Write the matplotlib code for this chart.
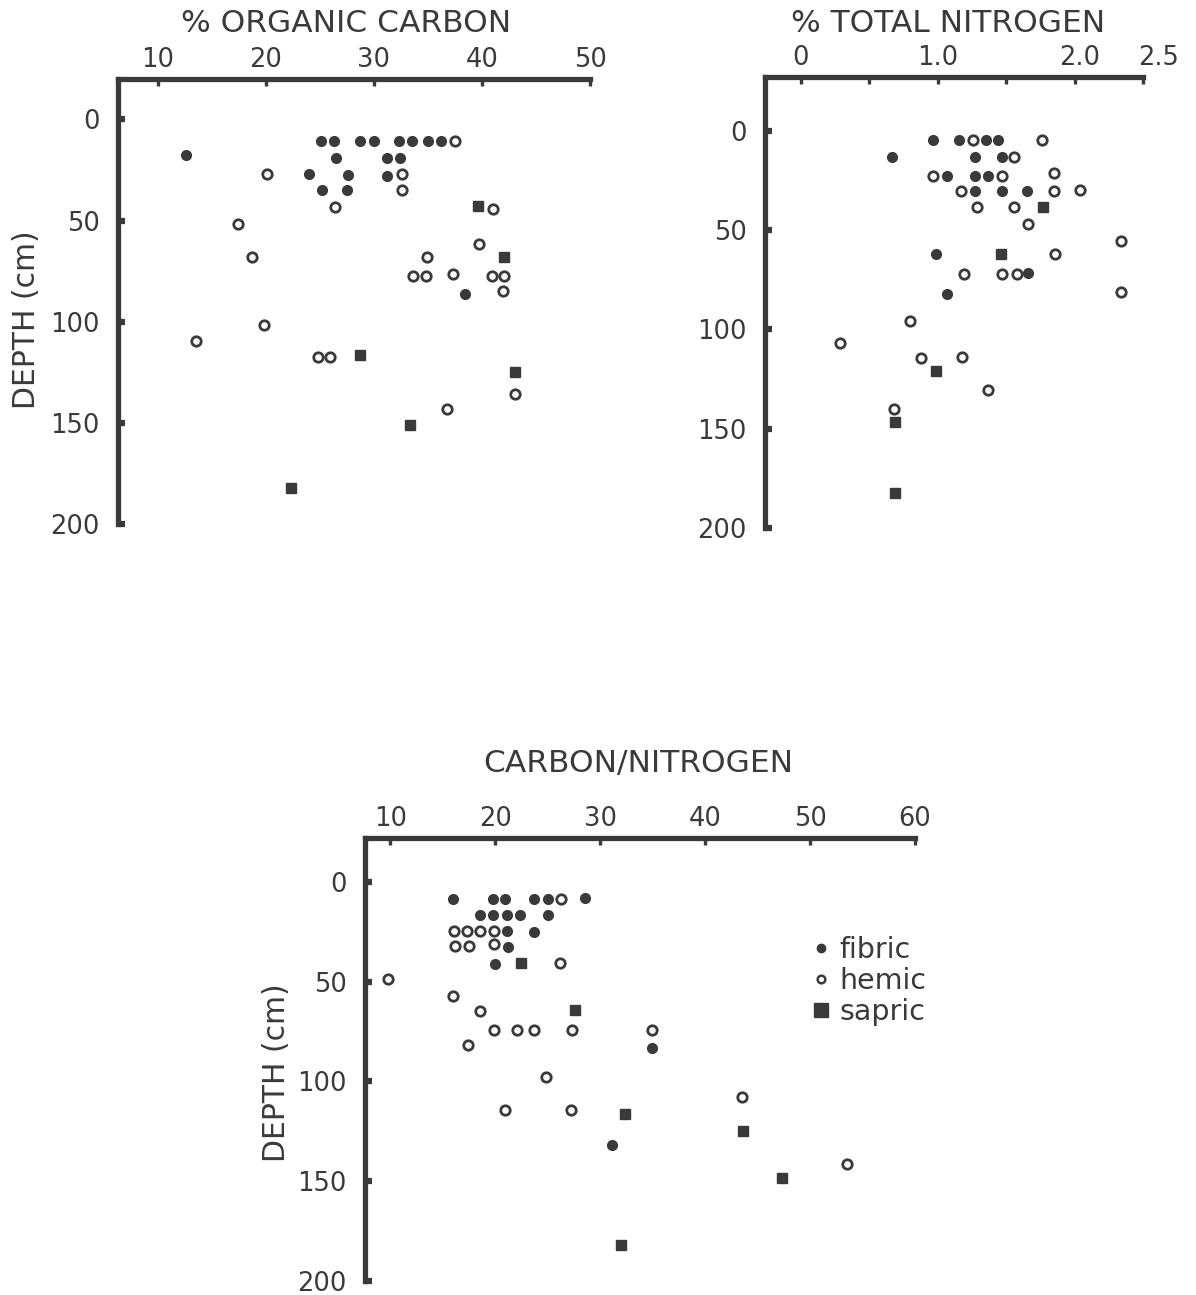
import matplotlib
matplotlib.use("Agg")
import matplotlib.pyplot as plt
import matplotlib.transforms as mtransforms
from matplotlib.lines import Line2D

# % organic carbon vs depth
oc_fibric_x = [25.1, 26.3, 28.7, 30.0, 32.3, 33.5, 35.0, 36.2, 12.6, 26.5, 31.2, 32.4,
               24.0, 27.6, 31.2, 25.2, 27.5, 38.4]
oc_fibric_d = [10.7, 10.7, 10.7, 10.7, 10.7, 10.7, 10.7, 10.7, 17.8, 19.2, 19.2, 19.2,
               27.2, 27.6, 28.0, 35.0, 35.0, 86.3]
oc_hemic_x = [37.5, 20.1, 32.6, 32.6, 26.4, 41.0, 17.4, 39.7, 18.7, 34.9, 33.6, 34.8,
              37.3, 40.9, 42.05, 41.9, 19.8, 13.5, 24.8, 25.9, 43.1, 36.8]
oc_hemic_d = [10.7, 27.0, 27.0, 35.0, 43.5, 44.4, 51.8, 61.6, 68.2, 68.2, 77.2, 77.2,
              76.3, 77.2, 77.2, 85.0, 101.6, 109.3, 117.5, 117.5, 135.6, 143.0]
oc_sapric_x = [39.6, 42.0, 28.7, 43.1, 33.3, 22.3]
oc_sapric_d = [43.0, 68.2, 116.5, 124.9, 151.2, 182.4]

# % total nitrogen vs depth
tn_fibric_x = [0.97, 1.16, 1.35, 1.44, 0.67, 1.27, 1.47, 1.07, 1.27, 1.37,
               1.27, 1.47, 1.65, 0.99, 1.66, 1.07]
tn_fibric_d = [4.5, 4.5, 4.5, 4.5, 13.4, 13.4, 13.4, 22.6, 22.6, 22.6,
               30.6, 30.6, 30.6, 61.9, 71.6, 82.0]
tn_hemic_x = [1.26, 1.76, 1.56, 0.97, 1.47, 1.85, 1.17, 1.85, 2.04, 1.29, 1.56, 1.66,
              2.34, 1.86, 1.19, 1.47, 1.58, 2.34, 0.80, 0.29, 0.88, 1.18, 1.37, 0.68]
tn_hemic_d = [4.5, 4.5, 13.4, 22.6, 22.6, 21.4, 30.6, 30.6, 29.8, 38.5, 38.5, 46.8,
              55.7, 61.9, 72.4, 72.4, 72.4, 81.0, 95.8, 107.0, 114.5, 114.0, 130.4, 140.0]
tn_sapric_x = [1.77, 1.46, 0.99, 0.69, 0.69]
tn_sapric_d = [38.5, 61.9, 121.0, 146.8, 182.6]

# carbon/nitrogen ratio vs depth
cn_fibric_x = [16.0, 19.8, 20.9, 23.7, 25.0, 28.6, 18.6, 19.8, 21.1, 22.4, 25.0,
               21.1, 23.7, 21.2, 20.0, 34.9, 31.1]
cn_fibric_d = [8.6, 8.6, 8.6, 8.6, 8.6, 8.1, 16.6, 16.6, 16.6, 16.6, 16.6,
               24.4, 25.0, 32.8, 41.0, 83.2, 132.0]
cn_hemic_x = [26.3, 16.1, 17.3, 18.6, 19.9, 16.2, 17.5, 19.9, 26.2, 9.8, 16.0, 18.6,
              19.9, 22.1, 23.7, 27.3, 34.9, 17.4, 24.8, 43.5, 20.9, 27.2, 53.5]
cn_hemic_d = [8.6, 24.4, 24.4, 24.4, 24.4, 32.1, 32.1, 31.3, 40.6, 48.7, 57.0, 64.6,
              74.0, 74.0, 74.0, 74.0, 74.0, 81.9, 98.0, 108.0, 114.3, 114.3, 141.5]
cn_sapric_x = [22.5, 27.6, 32.4, 43.6, 47.3, 32.0]
cn_sapric_d = [40.5, 64.1, 116.3, 125.0, 148.6, 182.0]

depth_ticks = [0, 50, 100, 150, 200]
oc_ticks = [10, 20, 30, 40, 50]
tn_ticks = [0, 0.5, 1.0, 1.5, 2.0, 2.5]
tn_tick_labels = ["0", "", "1.0", "", "2.0", "2.5"]
cn_ticks = [10, 20, 30, 40, 50, 60]

INK = "#3a3a3a"
plt.rcParams["font.family"] = ["DejaVu Sans"]
plt.rcParams["text.color"] = INK


def draw_points(ax, fx, fd, hx, hd, sx, sd):
    ax.plot(fx, fd, "o", ms=7, color=INK, mec=INK, linestyle="none", clip_on=False)
    ax.plot(hx, hd, "o", ms=6.8, mfc="white", mec=INK, mew=2.0, linestyle="none", clip_on=False)
    ax.plot(sx, sd, "s", ms=7, color=INK, mec=INK, linestyle="none", clip_on=False)


def style_axes(ax, xlim, ylim, xticks, xlabels=None):
    ax.set_xlim(*xlim)
    ax.set_ylim(*ylim)
    for side in ("bottom", "right"):
        ax.spines[side].set_visible(False)
    for side in ("top", "left"):
        ax.spines[side].set_linewidth(3.8)
        ax.spines[side].set_color(INK)
    ax.xaxis.tick_top()
    ax.set_xticks(xticks)
    if xlabels is not None:
        ax.set_xticklabels(xlabels)
    ax.set_yticks(depth_ticks)
    ax.tick_params(axis="x", direction="in", length=5, width=2.4, color=INK,
                   labelsize=18.5, labelcolor=INK, pad=4)
    ax.tick_params(axis="y", direction="in", length=5, width=4.5, color=INK,
                   labelsize=18.5, labelcolor=INK, pad=13)


fig = plt.figure(figsize=(11.96, 12.95), dpi=100)
W, H = 1196, 1295


def add_axes(left, top, right, bottom):
    return fig.add_axes([left / W, 1 - bottom / H, (right - left) / W, (bottom - top) / H])


ax1 = add_axes(118, 79, 590, 524)
draw_points(ax1, oc_fibric_x, oc_fibric_d, oc_hemic_x, oc_hemic_d, oc_sapric_x, oc_sapric_d)
style_axes(ax1, (6.3, 50), (200, -20), oc_ticks)
ax1.set_ylabel("DEPTH (cm)", fontsize=21.5, color=INK)
ax1.yaxis.set_label_coords(-0.164, 0.46)

ax2 = add_axes(765, 77, 1143, 528)
draw_points(ax2, tn_fibric_x, tn_fibric_d, tn_hemic_x, tn_hemic_d, tn_sapric_x, tn_sapric_d)
style_axes(ax2, (-0.26, 2.5), (200, -27), tn_ticks, tn_tick_labels)
# the last two labels sit a little right of their ticks in the scan
for lbl, dx in zip(ax2.get_xticklabels()[4:], (5, 16)):
    lbl.set_transform(lbl.get_transform() + mtransforms.ScaledTranslation(dx / 100, 0, fig.dpi_scale_trans))

ax3 = add_axes(365, 838, 915, 1281)
draw_points(ax3, cn_fibric_x, cn_fibric_d, cn_hemic_x, cn_hemic_d, cn_sapric_x, cn_sapric_d)
style_axes(ax3, (7.6, 60), (200, -22), cn_ticks)
ax3.set_ylabel("DEPTH (cm)", fontsize=21.5, color=INK)
ax3.yaxis.set_label_coords(-0.134, 0.47)

fig.text(346 / W, 1 - 24 / H, "% ORGANIC CARBON", fontsize=22.5, ha="center", va="center")
fig.text(948 / W, 1 - 24 / H, "% TOTAL NITROGEN", fontsize=22.5, ha="center", va="center")
fig.text(638 / W, 1 - 764 / H, "CARBON/NITROGEN", fontsize=22.5, ha="center", va="center")

handles = [
    Line2D([], [], marker="o", ms=6, color=INK, linestyle="none"),
    Line2D([], [], marker="o", ms=5.5, mfc="white", mec=INK, mew=1.8, linestyle="none"),
    Line2D([], [], marker="s", ms=10, color=INK, linestyle="none"),
]
fig.legend(handles, ["fibric", "hemic", "sapric"], loc="upper left",
           bbox_to_anchor=(798 / W, 1 - 922 / H), frameon=False, fontsize=20.5,
           handlelength=0.6, handletextpad=0.35, labelspacing=0.1, borderpad=0,
           labelcolor=INK)

fig.savefig("out.png", dpi=100)
